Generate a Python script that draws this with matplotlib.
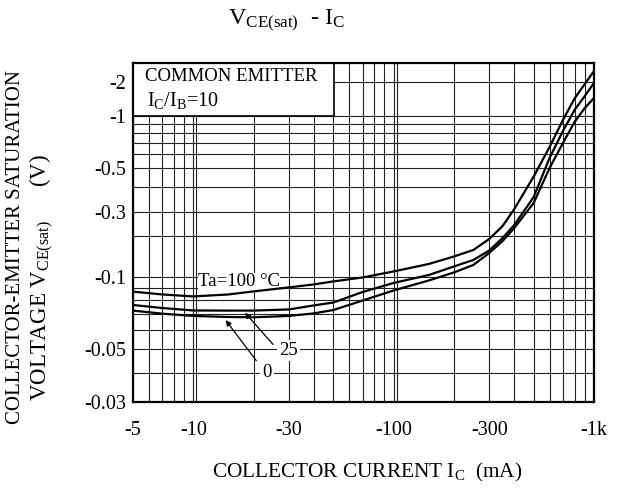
import numpy as np
import matplotlib
matplotlib.use("Agg")
import matplotlib.pyplot as plt
from matplotlib.patches import Rectangle

plt.rcParams['font.family'] = ['Liberation Serif', 'DejaVu Serif']
plt.rcParams['mathtext.fontset'] = 'custom'
plt.rcParams['mathtext.rm'] = 'Liberation Serif'
plt.rcParams['mathtext.it'] = 'Liberation Serif:italic'

# --- data (|IC| in mA, |VCE(sat)| in V) ---
ic_ma = [5, 7, 10, 15, 20, 30, 40, 50, 70, 100, 150, 200, 250, 300, 350, 400,
         500, 600, 700, 800, 900, 1000]
vce_100 = [0.0869, 0.0846, 0.0830, 0.0846, 0.0871, 0.0905, 0.0931, 0.0958,
           0.0995, 0.1098, 0.1247, 0.1416, 0.1581, 0.1906, 0.2377, 0.3113,
           0.4520, 0.6600, 0.9478, 1.424, 1.909, 2.484]
vce_25 = [0.0765, 0.0743, 0.0726, 0.0725, 0.0725, 0.0733, 0.0762, 0.0783,
          0.0866, 0.0944, 0.1034, 0.1195, 0.1334, 0.1568, 0.1939, 0.2417,
          0.3574, 0.5694, 0.8179, 1.129, 1.498, 1.948]
vce_0 = [0.0725, 0.0704, 0.0689, 0.0682, 0.0680, 0.0689, 0.0706, 0.0729,
         0.0798, 0.0879, 0.0967, 0.1079, 0.1226, 0.1502, 0.1842, 0.2297,
         0.3337, 0.4981, 0.6965, 0.9228, 1.175, 1.439]

x_ticks = [5, 10, 30, 100, 300, 1000]
x_labels = ['-5', '-10', '-30', '-100', '-300', '-1k']
y_ticks = [0.03, 0.05, 0.1, 0.3, 0.5, 1, 2]
y_labels = ['-0.03', '-0.05', '-0.1', '-0.3', '-0.5', '-1', '-2']

# the printed y axis is not a clean log scale: calibrate it piecewise
cal_vals = [0.03, 0.04, 0.05, 0.1, 0.3, 0.5, 1.0, 2.0, 2.94]
cal_frac = [0.0, 0.0838, 0.154, 0.368, 0.5587, 0.690, 0.843, 0.944, 1.0]
cal_log = np.log10(cal_vals)


def y_fwd(v):
    v = np.clip(np.asarray(v, dtype=float), 1e-6, None)
    return np.interp(np.log10(v), cal_log, cal_frac)


def y_inv(f):
    return 10 ** np.interp(f, cal_frac, cal_log)


fig = plt.figure(figsize=(6.24, 4.91), dpi=100)
ax = fig.add_axes([0.2131, 0.1819, 0.7388, 0.6904])
ax.set_xscale('log')
ax.set_yscale('function', functions=(y_fwd, y_inv))
ax.set_xlim(5, 1000)
ax.set_ylim(0.03, 2.94)

# grid
x_minor = [6, 7, 8, 9, 20, 40, 50, 60, 70, 80, 90, 200, 400, 500, 600, 700, 800, 900]
y_minor = [0.04, 0.06, 0.07, 0.08, 0.09, 0.2, 0.4, 0.6, 0.7, 0.8, 0.9]
ax.set_xticks(x_ticks)
ax.set_xticklabels(x_labels)
ax.set_xticks(x_minor, minor=True)
ax.set_yticks(y_ticks)
ax.set_yticklabels(y_labels)
ax.set_yticks(y_minor, minor=True)
ax.xaxis.set_minor_formatter(plt.NullFormatter())
ax.yaxis.set_minor_formatter(plt.NullFormatter())
ax.tick_params(which='both', length=0, labelsize=14.5)
ax.tick_params(axis='x', pad=14)
ax.tick_params(axis='y', pad=5)
ax.grid(True, which='both', color='#222222', lw=0.8)
for d in (10, 100):
    ax.axvline(d * 1.035, color='#222222', lw=0.8, zorder=0.5)
ax.set_axisbelow(True)
for s in ax.spines.values():
    s.set_linewidth(1.6)

# legend box
ax.add_patch(Rectangle((0, 1.0), 0.436, 3.0, transform=ax.get_yaxis_transform(),
                       facecolor='white', edgecolor='black', lw=1.2, zorder=2,
                       clip_on=True))
ax.text(0.026, 0.945, 'COMMON EMITTER', transform=ax.transAxes, fontsize=13.5,
        va='baseline', zorder=5)
ax.text(0.030, 0.872, r'I$_\mathrm{C}$/I$_\mathrm{B}$=10', transform=ax.transAxes,
        fontsize=14.5, va='baseline', zorder=5)

# curves
for v in (vce_100, vce_25, vce_0):
    ax.plot(ic_ma, v, color='black', lw=1.6, zorder=3)

box = dict(facecolor='white', edgecolor='none', pad=1.5)
ax.text(10.55, 0.0915, 'Ta=100 °C', fontsize=13.5, va='baseline', zorder=2.5,
        bbox=dict(facecolor='white', edgecolor='none', pad=0.3))
ax.text(30.0, 0.0475, '25', fontsize=13.5, ha='center', va='baseline',
        zorder=4, bbox=box)
ax.text(23.3, 0.0387, '0', fontsize=13.5, ha='center', va='baseline',
        zorder=4, bbox=box)
ax.annotate('', xy=(17.75, 0.0724), xytext=(25.57, 0.0514),
            arrowprops=dict(arrowstyle='-|>', color='black', lw=0.9,
                            mutation_scale=8), zorder=4)
ax.annotate('', xy=(14.23, 0.0676), xytext=(21.03, 0.0441),
            arrowprops=dict(arrowstyle='-|>', color='black', lw=0.9,
                            mutation_scale=8), zorder=4)

# titles and axis labels
fig.text(228 / 624, 1 - 25 / 491, r'V$_\mathrm{CE(sat)}$  - I$_\mathrm{C}$',
         fontsize=17.5, va='baseline', ha='left')
fig.text(367 / 624, 1 - 477 / 491, r'COLLECTOR CURRENT I$_\mathrm{C}$  (mA)',
         fontsize=15.3, ha='center', va='baseline')
fig.text(16 / 624, 1 - 247 / 491, 'COLLECTOR-EMITTER SATURATION', fontsize=15,
         rotation=90, ha='center', va='center')
fig.text(42 / 624, 1 - 278 / 491, r'VOLTAGE V$_\mathrm{CE(sat)}$      (V)',
         fontsize=16.5, rotation=90, ha='center', va='center')

fig.savefig('out.png', dpi=100)
